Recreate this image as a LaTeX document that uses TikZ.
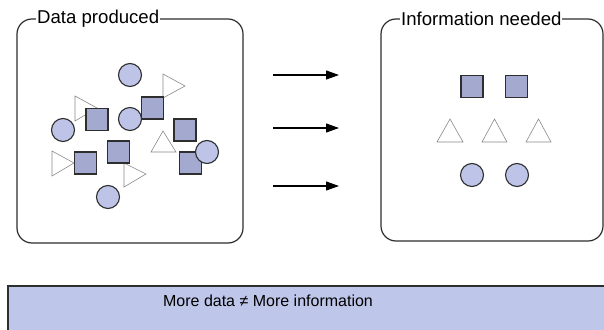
\documentclass[tikz,border=0pt]{standalone}
\usepackage{fontspec}
\setmainfont{Liberation Sans}
\usetikzlibrary{arrows.meta}
\definecolor{sqfill}{HTML}{A3A9CF}
\definecolor{cifill}{HTML}{BDC4E8}
\definecolor{barfill}{HTML}{BEC6E9}
\definecolor{edge}{HTML}{2E2E2E}
\definecolor{trig}{HTML}{8A8A8A}
\tikzset{
  sq/.style={draw=edge, line width=1.1pt, fill=sqfill, rectangle, minimum size=22pt, inner sep=0pt},
  ci/.style={draw=edge, line width=1.1pt, fill=cifill, circle, minimum size=23pt, inner sep=0pt},
  tri/.style={draw=trig, line width=0.6pt, fill=white, line join=miter},
  grp/.style={draw=edge, line width=1.2pt, rounded corners=15pt},
  ttl/.style={fill=white, inner sep=1pt, font=\fontsize{18.6}{20}\selectfont, anchor=west},
  arr/.style={line width=1.2pt, -{Stealth[length=13pt, width=9pt, inset=0pt]}},
  bar/.style={draw=edge, line width=1.5pt, fill=barfill}
}
\begin{document}
\begin{tikzpicture}[x=1pt, y=-1pt]
\useasboundingbox (0,0) rectangle (604,329);
\clip (0,0) rectangle (604,329);
\fill[white] (0,0) rectangle (604,329);

% group boxes
\draw[grp] (17,19) rectangle (243,243);
\node[ttl] (t1) at (36,19) {Data produced};
\draw[grp] (381,19) rectangle (603,241);
\node[ttl] (t2) at (400,19) {Information needed};

% left: triangles
\draw[tri] (163,74) -- (185,86) -- (163,98) -- cycle;
\draw[tri] (75,96) -- (97,108) -- (75,121) -- cycle;
\draw[tri] (151,152) -- (163,131) -- (176,152) -- cycle;
\draw[tri] (52,151) -- (74,163) -- (52,176) -- cycle;
\draw[tri] (124,163) -- (146,174) -- (124,187) -- cycle;

% left: squares
\node[sq] (s1) at (152.5,108) {};
\node[sq] (s2) at (97,119.5) {};
\node[sq] (s3) at (185,130) {};
\node[sq] (s4) at (118.5,152) {};
\node[sq] (s5) at (85.5,163) {};
\node[sq] (s6) at (190.5,163) {};

% left: circles
\node[ci] (c1) at (130,75) {};
\node[ci] (c2) at (130,119) {};
\node[ci] (c3) at (63,130) {};
\node[ci] (c4) at (207,152) {};
\node[ci] (c5) at (108,197) {};

% arrows
\coordinate (a1s) at (273,75);  \coordinate (a1e) at (339,75);
\coordinate (a2s) at (273,128); \coordinate (a2e) at (339,128);
\coordinate (a3s) at (273,186); \coordinate (a3e) at (339,186);
\draw[arr] (a1s) -- (a1e);
\draw[arr] (a2s) -- (a2e);
\draw[arr] (a3s) -- (a3e);

% right: squares
\node[sq] (r1) at (472,86.5) {};
\node[sq] (r2) at (516.5,86.5) {};
% right: triangles
\draw[tri] (437,142) -- (450,119) -- (463,142) -- cycle;
\draw[tri] (482,142) -- (494.5,119) -- (507,142) -- cycle;
\draw[tri] (526,142) -- (538.5,119) -- (551,142) -- cycle;
% right: circles
\node[ci] (r3) at (472,175) {};
\node[ci] (r4) at (517,175) {};

% bottom bar
\draw[bar] (8,286) rectangle (640,360);
\node[font=\fontsize{16}{18}\selectfont] (msg) at (268,301) {More data ≠ More information};
\end{tikzpicture}
\end{document}
